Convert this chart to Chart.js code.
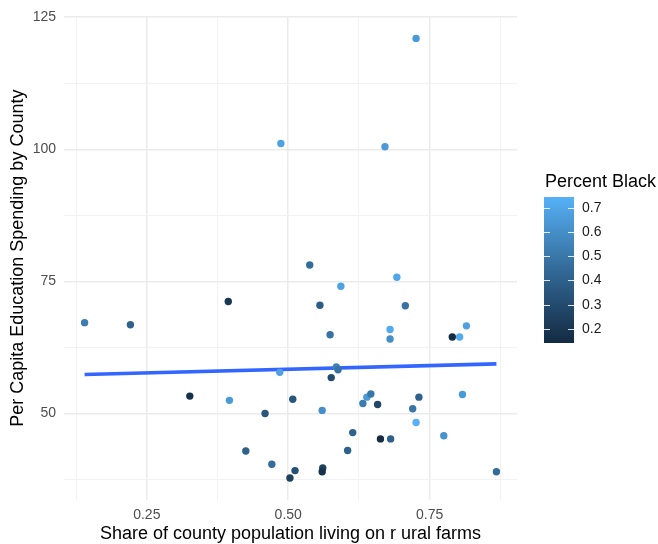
<!DOCTYPE html>
<html>
<head>
<meta charset="utf-8">
<script src="https://cdn.jsdelivr.net/npm/chart.js@4/dist/chart.umd.min.js"></script>
<style>
  html, body { margin: 0; padding: 0; background: #ffffff; }
  canvas { display: block; }
</style>
</head>
<body>
<canvas id="chart" width="658" height="544"></canvas>
<script>
// County data: share living on rural farms, per capita education spending, share Black
const farmShare = [
  0.140, 0.221, 0.326, 0.394, 0.396, 0.425, 0.459, 0.471, 0.485, 0.487,
  0.503, 0.508, 0.512, 0.538, 0.556, 0.560, 0.561, 0.560, 0.574, 0.576,
  0.585, 0.588, 0.593, 0.605, 0.614, 0.632, 0.639, 0.646, 0.658, 0.663,
  0.671, 0.680, 0.680, 0.681, 0.692, 0.707, 0.720, 0.726, 0.726, 0.731,
  0.775, 0.790, 0.803, 0.808, 0.815, 0.868
];
const eduSpending = [
  67.2, 66.8, 53.3, 71.2, 52.5, 42.9, 50.0, 40.4, 57.8, 101.1,
  37.8, 52.7, 39.2, 78.1, 70.5, 50.6, 39.7, 39.0, 64.9, 56.8,
  58.8, 58.3, 74.1, 43.0, 46.4, 51.9, 53.1, 53.7, 51.7, 45.2,
  100.5, 65.9, 64.1, 45.2, 75.8, 70.4, 50.9, 121.0, 48.3, 53.1,
  45.8, 64.5, 64.5, 53.6, 66.6, 39.0
];
const pctBlack = [
  0.52, 0.40, 0.18, 0.20, 0.65, 0.40, 0.35, 0.45, 0.68, 0.68,
  0.25, 0.35, 0.33, 0.45, 0.38, 0.60, 0.25, 0.18, 0.48, 0.30,
  0.55, 0.48, 0.68, 0.40, 0.40, 0.52, 0.65, 0.50, 0.28, 0.142,
  0.65, 0.72, 0.60, 0.40, 0.70, 0.48, 0.50, 0.65, 0.744, 0.40,
  0.62, 0.15, 0.72, 0.65, 0.68, 0.45
];

// Axis breaks and labels
const xMajorBreaks = [0.25, 0.50, 0.75];
const xMajorLabels = ['0.25', '0.50', '0.75'];
const xMinorBreaks = [0.125, 0.375, 0.625, 0.875];
const yMajorBreaks = [50, 75, 100, 125];
const yMajorLabels = ['50', '75', '100', '125'];
const yMinorBreaks = [37.5, 62.5, 87.5, 112.5];
const legendBreaks = [0.2, 0.3, 0.4, 0.5, 0.6, 0.7];
const legendLabels = ['0.2', '0.3', '0.4', '0.5', '0.6', '0.7'];

const LOW_COLOR = '#132B43';
const HIGH_COLOR = '#56B1F7';

// ---- colour gradient interpolated in CIE Lab ----
function hexToRgb(h) {
  return [1, 3, 5].map(i => parseInt(h.substr(i, 2), 16) / 255);
}
function toLinear(c) { return c <= 0.04045 ? c / 12.92 : Math.pow((c + 0.055) / 1.055, 2.4); }
function fromLinear(c) { return c <= 0.0031308 ? 12.92 * c : 1.055 * Math.pow(c, 1 / 2.4) - 0.055; }
const WHITE = [0.95047, 1.0, 1.08883];
function rgbToLab(rgb) {
  const [r, g, b] = rgb.map(toLinear);
  const X = 0.4124564 * r + 0.3575761 * g + 0.1804375 * b;
  const Y = 0.2126729 * r + 0.7151522 * g + 0.0721750 * b;
  const Z = 0.0193339 * r + 0.1191920 * g + 0.9503041 * b;
  const f = t => t > 216 / 24389 ? Math.cbrt(t) : (24389 / 27 * t + 16) / 116;
  const fx = f(X / WHITE[0]), fy = f(Y / WHITE[1]), fz = f(Z / WHITE[2]);
  return [116 * fy - 16, 500 * (fx - fy), 200 * (fy - fz)];
}
function labToRgb(lab) {
  const fy = (lab[0] + 16) / 116, fx = fy + lab[1] / 500, fz = fy - lab[2] / 200;
  const inv = t => t * t * t > 216 / 24389 ? t * t * t : (116 * t - 16) / (24389 / 27);
  const X = inv(fx) * WHITE[0], Y = inv(fy) * WHITE[1], Z = inv(fz) * WHITE[2];
  const r = 3.2404542 * X - 1.5371385 * Y - 0.4985314 * Z;
  const g = -0.9692660 * X + 1.8760108 * Y + 0.0415560 * Z;
  const b = 0.0556434 * X - 0.2040259 * Y + 1.0572252 * Z;
  return [r, g, b].map(c => Math.round(Math.min(1, Math.max(0, fromLinear(c))) * 255));
}
const labLow = rgbToLab(hexToRgb(LOW_COLOR));
const labHigh = rgbToLab(hexToRgb(HIGH_COLOR));
const colMin = Math.min(...pctBlack);
const colMax = Math.max(...pctBlack);
function colourFor(v) {
  const t = (v - colMin) / (colMax - colMin);
  const lab = labLow.map((l, i) => l + (labHigh[i] - l) * t);
  const [r, g, b] = labToRgb(lab);
  return `rgb(${r},${g},${b})`;
}

// ---- limits with 5% expansion on each side ----
function expanded(arr) {
  const lo = Math.min(...arr), hi = Math.max(...arr), pad = (hi - lo) * 0.05;
  return [lo - pad, hi + pad];
}
const [xMin, xMax] = expanded(farmShare);
const [yMin, yMax] = expanded(eduSpending);

// ---- least squares fit ----
const n = farmShare.length;
const mx = farmShare.reduce((a, b) => a + b, 0) / n;
const my = eduSpending.reduce((a, b) => a + b, 0) / n;
let sxy = 0, sxx = 0;
for (let i = 0; i < n; i++) {
  sxy += (farmShare[i] - mx) * (eduSpending[i] - my);
  sxx += (farmShare[i] - mx) ** 2;
}
const slope = sxy / sxx;
const intercept = my - slope * mx;
const dataXMin = Math.min(...farmShare), dataXMax = Math.max(...farmShare);
const fitLine = [dataXMin, dataXMax].map(x => ({ x, y: intercept + slope * x }));

const points = farmShare.map((x, i) => ({ x, y: eduSpending[i] }));
const pointColours = pctBlack.map(colourFor);

const FONT = 'Liberation Sans, Arial, Helvetica, sans-serif';
const allX = [...xMinorBreaks, ...xMajorBreaks].sort((a, b) => a - b);
const allY = [...yMinorBreaks, ...yMajorBreaks].sort((a, b) => a - b);
const isMajor = (v, majors) => majors.some(m => Math.abs(m - v) < 1e-9);

// ---- colourbar legend ----
const colourBar = {
  id: 'colourBar',
  afterDraw(chart) {
    const ctx = chart.ctx;
    const left = 544, top = 197, w = 30, h = 146, bottom = top + h;
    ctx.save();
    ctx.fillStyle = '#000000';
    ctx.font = `18px ${FONT}`;
    ctx.textAlign = 'left';
    ctx.textBaseline = 'alphabetic';
    ctx.fillText('Percent Black', 545, 187);

    const grad = ctx.createLinearGradient(0, bottom, 0, top);
    for (let s = 0; s <= 20; s++) {
      const v = colMin + (colMax - colMin) * s / 20;
      grad.addColorStop(s / 20, colourFor(v));
    }
    ctx.fillStyle = grad;
    ctx.fillRect(left, top, w, h);

    ctx.strokeStyle = 'rgba(255,255,255,0.85)';
    ctx.lineWidth = 1;
    ctx.font = `14px ${FONT}`;
    ctx.textBaseline = 'middle';
    legendBreaks.forEach((v, i) => {
      const y = Math.round(bottom - (v - colMin) / (colMax - colMin) * h) + 0.5;
      ctx.beginPath();
      ctx.moveTo(left, y); ctx.lineTo(left + 6, y);
      ctx.moveTo(left + w - 6, y); ctx.lineTo(left + w, y);
      ctx.stroke();
      ctx.fillStyle = '#1a1a1a';
      ctx.fillText(legendLabels[i], 582, y);
    });
    ctx.restore();
  }
};

new Chart(document.getElementById('chart'), {
  data: {
    datasets: [
      {
        type: 'scatter',
        data: points,
        pointBackgroundColor: pointColours,
        pointBorderWidth: 0,
        pointRadius: 3.7,
        order: 0
      },
      {
        type: 'line',
        data: fitLine,
        borderColor: '#3366FF',
        borderWidth: 3.6,
        pointRadius: 0,
        fill: false,
        order: 1
      }
    ]
  },
  options: {
    responsive: false,
    animation: false,
    devicePixelRatio: 1,
    events: [],
    layout: { padding: { top: 13, right: 141, left: 0, bottom: 0 } },
    plugins: { legend: { display: false }, tooltip: { enabled: false } },
    scales: {
      x: {
        type: 'linear',
        min: xMin,
        max: xMax,
        afterBuildTicks: s => { s.ticks = allX.map(v => ({ value: v })); },
        afterFit: s => { s.height = 44; },
        border: { display: false },
        grid: {
          drawTicks: false,
          color: c => isMajor(c.tick.value, xMajorBreaks) ? '#EBEBEB' : '#F1F1F1',
          lineWidth: c => isMajor(c.tick.value, xMajorBreaks) ? 1.5 : 0.9
        },
        ticks: {
          padding: 7,
          color: '#4D4D4D',
          font: { family: FONT, size: 14 },
          maxRotation: 0,
          autoSkip: false,
          callback: v => {
            const i = xMajorBreaks.findIndex(m => Math.abs(m - v) < 1e-9);
            return i >= 0 ? xMajorLabels[i] : '';
          }
        },
        title: {
          display: true,
          text: 'Share of county population living on r ural farms',
          color: '#000000',
          font: { family: FONT, size: 18, lineHeight: 1.1 },
          padding: 0
        }
      },
      y: {
        type: 'linear',
        min: yMin,
        max: yMax,
        afterBuildTicks: s => { s.ticks = allY.map(v => ({ value: v })); },
        afterFit: s => { s.width = 64; },
        border: { display: false },
        grid: {
          drawTicks: false,
          color: c => isMajor(c.tick.value, yMajorBreaks) ? '#EBEBEB' : '#F1F1F1',
          lineWidth: c => isMajor(c.tick.value, yMajorBreaks) ? 1.5 : 0.9
        },
        ticks: {
          padding: 8,
          color: '#4D4D4D',
          font: { family: FONT, size: 14 },
          autoSkip: false,
          callback: v => {
            const i = yMajorBreaks.findIndex(m => Math.abs(m - v) < 1e-9);
            return i >= 0 ? yMajorLabels[i] : '';
          }
        },
        title: {
          display: true,
          text: 'Per Capita Education Spending by County',
          color: '#000000',
          font: { family: FONT, size: 18, lineHeight: 1.1 },
          padding: { top: 8, bottom: 0 }
        }
      }
    }
  },
  plugins: [colourBar]
});
</script>
</body>
</html>
